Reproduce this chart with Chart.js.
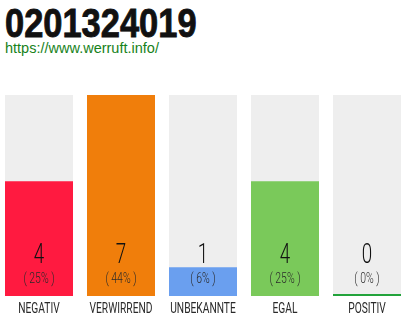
<!DOCTYPE html>
<html>
<head>
<meta charset="utf-8">
<script src="https://cdn.jsdelivr.net/npm/chart.js@4/dist/chart.umd.min.js"></script>
<style>
  html, body { margin: 0; padding: 0; width: 410px; height: 320px; overflow: hidden; background: #fff; }
  #title { position: absolute; left: 5px; top: 3px; font-family: "Liberation Sans", Arial, sans-serif; font-weight: bold; font-size: 41px; line-height: 41px; color: #111; -webkit-text-stroke: 0.9px #111; transform: scaleX(0.84); transform-origin: 0 0; white-space: nowrap; }
  #url { position: absolute; left: 5px; top: 41px; font-family: "Liberation Sans", Arial, sans-serif; font-size: 14.5px; line-height: 14.5px; color: #17821a; white-space: nowrap; }
  #wrap { position: absolute; left: -2px; top: 0; width: 412px; height: 320px; }
</style>
</head>
<body>
<div id="title">0201324019</div>
<div id="url">https://www.werruft.info/</div>
<div id="wrap"><canvas id="c" width="412" height="320"></canvas></div>
<script>
const categories = ['NEGATIV', 'VERWIRREND', 'UNBEKANNTE', 'EGAL', 'POSITIV'];
const counts = [4, 7, 1, 4, 0];
const percentLabels = ['25%', '44%', '6%', '25%', '0%'];
const barColors = ['#ff1a40', '#f07e0b', '#6a9fef', '#7ac95a', '#22a33b'];
const trackColor = '#eeeeee';

const maxCount = Math.max(...counts);
const trackValues = categories.map(() => maxCount);

function drawCondensed(ctx, text, x, y, sx) {
  ctx.save();
  ctx.translate(x, y);
  ctx.scale(sx, 1);
  ctx.textAlign = 'center';
  ctx.textBaseline = 'alphabetic';
  ctx.fillText(text, 0, 0);
  ctx.restore();
}

const labelPlugin = {
  id: 'labelPlugin',
  afterDatasetsDraw(chart) {
    const ctx = chart.ctx;
    const xs = chart.scales.x;
    const ys = chart.scales.y;
    const base = ys.getPixelForValue(0);
    categories.forEach((cat, i) => {
      const x = xs.getPixelForValue(i);
      ctx.fillStyle = '#111111';
      ctx.font = '300 28.5px Roboto';
      drawCondensed(ctx, String(counts[i]), x, base - 33, 0.66);
      ctx.fillStyle = '#2a2a2a';
      ctx.font = '300 14.5px Roboto';
      drawCondensed(ctx, '( ' + percentLabels[i] + ' )', x, base - 13, 0.72);
      ctx.fillStyle = '#2a2a2a';
      ctx.font = '400 15.5px Roboto';
      drawCondensed(ctx, cat, x, base + 17, 0.66);
    });
  }
};

new Chart(document.getElementById('c'), {
  type: 'bar',
  data: {
    labels: categories,
    datasets: [
      {
        data: trackValues,
        backgroundColor: trackColor,
        grouped: false,
        order: 2,
        categoryPercentage: 1,
        barPercentage: 68 / 82
      },
      {
        data: counts,
        backgroundColor: barColors,
        grouped: false,
        order: 1,
        minBarLength: 2,
        categoryPercentage: 1,
        barPercentage: 68 / 82
      }
    ]
  },
  options: {
    responsive: false,
    animation: false,
    devicePixelRatio: 1,
    layout: { padding: { top: 95, bottom: 24, left: 0, right: 2 } },
    plugins: { legend: { display: false }, tooltip: { enabled: false } },
    scales: {
      x: { display: false },
      y: { display: false, min: 0, max: maxCount }
    }
  },
  plugins: [labelPlugin]
});
</script>
</body>
</html>
